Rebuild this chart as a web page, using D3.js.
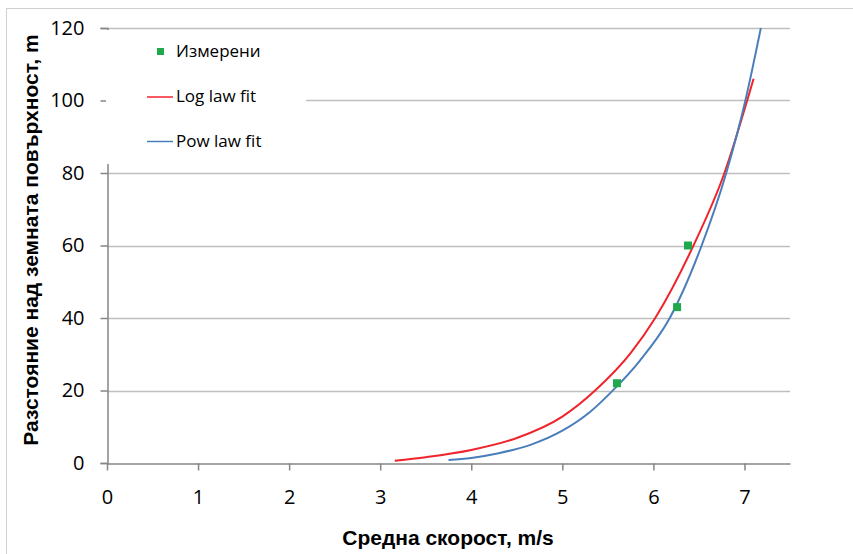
<!DOCTYPE html>
<html>
<head>
<meta charset="utf-8">
<script src="https://cdn.jsdelivr.net/npm/d3@7"></script>
<style>
  body { margin: 0; background: #fff; }
  svg text { font-family: "Open Sans", sans-serif; fill: #000; }
</style>
</head>
<body>
<div id="chart"></div>
<script>
// measured points (speed m/s, height m)
var measU = [5.60, 6.26, 6.38];
var measZ = [22, 43, 60];

// log law fit
var logU = [3.16, 3.50, 4.00, 4.50, 5.00, 5.36, 5.75, 6.02, 6.44, 6.78, 7.03, 7.10];
var logZ = [0.6, 1.6, 3.6, 6.9, 12.8, 20.0, 30.3, 40.0, 60.0, 80.0, 100.0, 106.0];

// pow law fit
var powU = [3.75, 4.00, 4.30, 4.65, 5.00, 5.30, 5.55, 5.85, 6.18, 6.53, 6.80, 7.01, 7.18];
var powZ = [0.8, 1.4, 2.7, 5.0, 8.9, 14.0, 19.9, 28.2, 40.0, 60.0, 80.0, 100.0, 120.0];

var xTicks = [0, 1, 2, 3, 4, 5, 6, 7];
var yTicks = [0, 20, 40, 60, 80, 100, 120];

var legendNames = ["Измерени", "Log law fit", "Pow law fit"];

var w = 853;
var h = 554;

var red = "#f0232b";
var blue = "#4a7ebb";
var green = "#1fa84c";

var svg = d3.select("#chart")
  .append("svg")
  .attr("width", w)
  .attr("height", h);

// chart frame
svg.append("rect")
  .attr("x", 6.5).attr("y", 8.5)
  .attr("width", 900).attr("height", 600)
  .attr("fill", "#fff")
  .attr("stroke", "#d0d0d0");

var x = d3.scaleLinear().domain([0, 7.5]).range([107, 790]);
var y = d3.scaleLinear().domain([0, 120]).range([463, 28]);

// gridlines
svg.append("g")
  .selectAll("line")
  .data(yTicks.filter(function(d){ return d > 0; }))
  .enter()
  .append("line")
  .attr("x1", x(0)).attr("x2", x(7.5))
  .attr("y1", function(d){ return Math.round(y(d)) + 0.5; })
  .attr("y2", function(d){ return Math.round(y(d)) + 0.5; })
  .attr("stroke", "#bebebe")
  .attr("stroke-width", 1.5);

// y axis
var yAxis = svg.append("g")
  .attr("transform", "translate(" + (x(0) + 0.5) + ",0)")
  .call(d3.axisLeft(y).tickValues(yTicks).tickSize(7).tickPadding(16));
yAxis.select(".domain").attr("stroke", "#868686").attr("stroke-width", 1.5);
yAxis.selectAll(".tick line").attr("stroke", "#868686").attr("stroke-width", 1.5);
yAxis.selectAll("text").style("font-size", "20px");

// x axis
var xAxis = svg.append("g")
  .attr("transform", "translate(0," + (Math.round(y(0)) + 0.5) + ")")
  .call(d3.axisBottom(x).tickValues(xTicks).tickSize(7).tickSizeOuter(0).tickPadding(19));
xAxis.select(".domain").attr("stroke", "#868686").attr("stroke-width", 1.5);
xAxis.selectAll(".tick line").attr("stroke", "#868686").attr("stroke-width", 1.5);
xAxis.selectAll("text").style("font-size", "20px");

// curves
var line = d3.line()
  .x(function(d){ return x(d[0]); })
  .y(function(d){ return y(d[1]); })
  .curve(d3.curveMonotoneX);

svg.append("path")
  .attr("d", line(d3.zip(logU, logZ)))
  .attr("fill", "none")
  .attr("stroke", red)
  .attr("stroke-width", 2);

svg.append("path")
  .attr("d", line(d3.zip(powU, powZ)))
  .attr("fill", "none")
  .attr("stroke", blue)
  .attr("stroke-width", 2);

// measured markers
svg.append("g")
  .selectAll("rect")
  .data(d3.zip(measU, measZ))
  .enter()
  .append("rect")
  .attr("x", function(d){ return x(d[0]) - 4; })
  .attr("y", function(d){ return y(d[1]) - 4; })
  .attr("width", 8).attr("height", 8)
  .attr("fill", green);

// legend (white box covers axis/grid like excel)
var leg = svg.append("g");
leg.append("rect")
  .attr("x", 106).attr("y", 30)
  .attr("width", 200).attr("height", 134)
  .attr("fill", "#fff");
leg.append("rect")
  .attr("x", 157).attr("y", 48)
  .attr("width", 7).attr("height", 7)
  .attr("fill", green);
leg.append("line")
  .attr("x1", 147).attr("x2", 173).attr("y1", 97).attr("y2", 97)
  .attr("stroke", red).attr("stroke-width", 1.5);
leg.append("line")
  .attr("x1", 147).attr("x2", 173).attr("y1", 141.5).attr("y2", 141.5)
  .attr("stroke", blue).attr("stroke-width", 1.5);
leg.selectAll("text")
  .data(legendNames)
  .enter()
  .append("text")
  .attr("x", 176)
  .attr("y", function(d, i){ return 57 + i * 45; })
  .style("font-size", "17px")
  .text(function(d){ return d; });

// axis titles
svg.append("text")
  .attr("x", 448).attr("y", 545)
  .attr("text-anchor", "middle")
  .style("font-family", "'Liberation Sans Narrow', 'Liberation Sans', sans-serif")
  .style("font-weight", "bold")
  .style("font-size", "21px")
  .text("Средна скорост, m/s");

svg.append("text")
  .attr("transform", "translate(38,240) rotate(-90)")
  .attr("text-anchor", "middle")
  .style("font-family", "'Liberation Sans Narrow', 'Liberation Sans', sans-serif")
  .style("font-weight", "bold")
  .style("font-size", "21px")
  .text("Разстояние над земната повърхност, m");
</script>
</body>
</html>
